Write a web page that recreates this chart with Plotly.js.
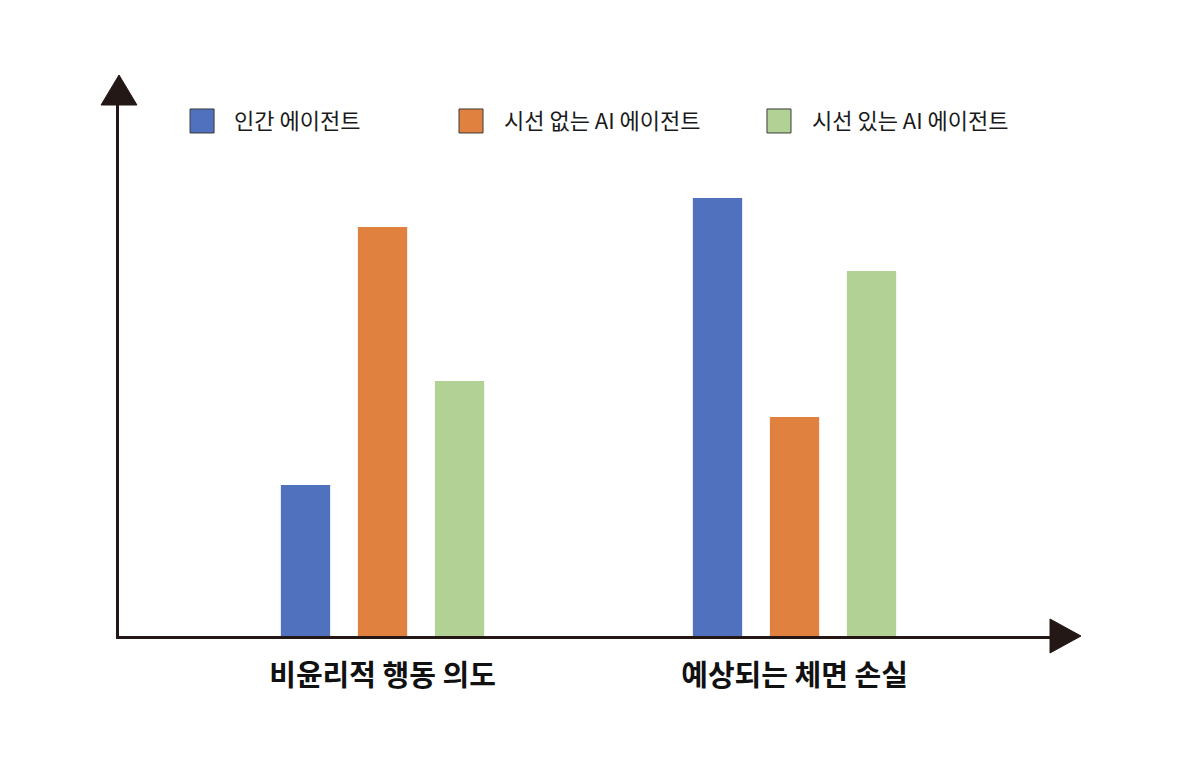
<!DOCTYPE html>
<html>
<head>
<meta charset="utf-8">
<script src="https://cdn.plot.ly/plotly-3.0.1.min.js"></script>
<style>
  html, body { margin: 0; padding: 0; background: #fff; }
  #chart { width: 1200px; height: 769px; }
</style>
</head>
<body>
<div id="chart"></div>
<script>
// categories on the x axis
const categories = ['비윤리적 행동 의도', '예상되는 체면 손실']

// series (arbitrary units - no y ticks in the original)
const seriesNames = ['인간 에이전트', '시선 없는 AI 에이전트', '시선 있는 AI 에이전트']
const humanAgent = [1.51, 4.38]
const aiNoGaze = [4.09, 2.19]
const aiGaze = [2.55, 3.65]
const seriesColors = ['#4F71BE', '#E0813F', '#B2D194']

const seriesValues = [humanAgent, aiNoGaze, aiGaze]

const axisColor = '#231815'
const font = '"Noto Sans CJK KR", "Noto Sans", sans-serif'

const traces = seriesValues.map((vals, i) => ({
  type: 'bar',
  name: seriesNames[i],
  x: categories,
  y: vals,
  marker: { color: seriesColors[i], line: { width: 0 } },
  showlegend: false,
  hoverinfo: 'none'
}))

// hand made legend: big outlined squares + labels
const legendSquareX = [0.0763, 0.3652, 0.6960]
const legendTextX = [0.1214, 0.4114, 0.7422]

const shapes = []
const annotations = []
seriesNames.forEach((name, i) => {
  shapes.push({
    type: 'rect', xref: 'paper', yref: 'paper',
    x0: legendSquareX[i], x1: legendSquareX[i] + 0.0258,
    y0: 0.9473, y1: 0.9925,
    fillcolor: seriesColors[i],
    line: { color: '#3a3a3a', width: 1 }
  })
  annotations.push({
    xref: 'paper', yref: 'paper',
    x: legendTextX[i], y: 0.9735,
    xanchor: 'left', yanchor: 'middle',
    text: name, showarrow: false,
    font: { family: font, size: 22, color: '#1a1a1a', weight: 400 }
  })
})

// arrow heads on both axes
shapes.push({
  type: 'path', xref: 'paper', yref: 'paper',
  path: 'M -0.0193 1 L 0.0193 1 L 0 1.0565 Z',
  fillcolor: axisColor, line: { color: axisColor, width: 1 }
})
shapes.push({
  type: 'path', xref: 'paper', yref: 'paper',
  path: 'M 1 0.032 L 1 -0.032 L 1.0333 0 Z',
  fillcolor: axisColor, line: { color: axisColor, width: 1 }
})

const layout = {
  width: 1200,
  height: 769,
  margin: { l: 119, r: 150, t: 105, b: 133 },
  paper_bgcolor: '#ffffff',
  plot_bgcolor: '#ffffff',
  barmode: 'group',
  bargap: 0.4393,
  bargroupgap: 0.36,
  xaxis: {
    type: 'category',
    range: [-0.6396, 1.6201],
    showline: true,
    linecolor: axisColor,
    linewidth: 3,
    ticks: '',
    showgrid: false,
    zeroline: false,
    ticklabelstandoff: 12,
    tickfont: { family: font, size: 29, color: '#111111', weight: 700 }
  },
  yaxis: {
    range: [0, 5.31],
    showline: true,
    linecolor: axisColor,
    linewidth: 3,
    ticks: '',
    showticklabels: false,
    showgrid: false,
    zeroline: false
  },
  shapes: shapes,
  annotations: annotations
}

Plotly.newPlot('chart', traces, layout, { displayModeBar: false, staticPlot: true })
</script>
</body>
</html>
